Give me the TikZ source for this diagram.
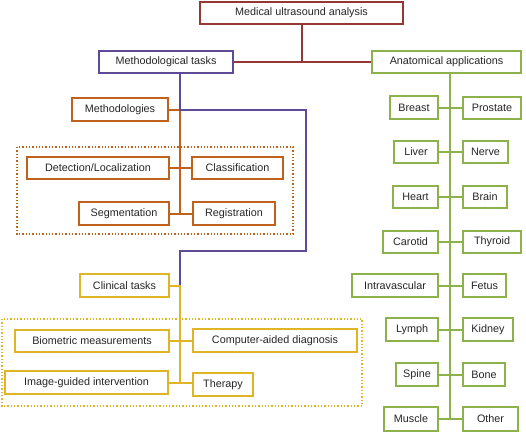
\documentclass[tikz,border=0pt]{standalone}
\usepackage{fontspec}
\setmainfont{Liberation Sans}
\definecolor{cred}{HTML}{953735}
\definecolor{cpur}{HTML}{5F4A98}
\definecolor{corg}{HTML}{C0621C}
\definecolor{cyel}{HTML}{DFB425}
\definecolor{cgrn}{HTML}{8DB14B}
\tikzset{
  ubox/.style={draw, line width=1.4pt, inner sep=0pt, fill=white, font=\fontsize{10.8}{13}\selectfont, text=black!85},
  conn/.style={line width=2pt},
  grp/.style={line width=1.3pt, dotted},
}
\newcommand\ubox[7]{\node[ubox, draw=#6, minimum width={#4pt-#2pt}, minimum height={#5pt-#3pt}] (#1) at ({(#2+#4)/2},{(#3+#5)/2}) {#7};}
\begin{document}
\begin{tikzpicture}[x=1pt,y=-1pt]
\useasboundingbox (0,0) rectangle (526,432);
\coordinate (tm) at (180,0);
\coordinate (tp) at (306,0);
\coordinate (tg) at (450,0);
\coordinate (pb) at (0,251);
% group boxes
\draw[grp, corg] (17,147) rectangle (293,234);
\draw[grp, cyel] (2,319) rectangle (362,406);
% nodes
\ubox{top}{200}{2}{403}{24}{cred}{Medical ultrasound analysis}
\ubox{mt}{99}{51}{233}{73}{cpur}{Methodological tasks}
\ubox{aa}{372}{51}{521}{73}{cgrn}{Anatomical applications}
\ubox{meth}{72}{98}{168}{121}{corg}{Methodologies}
\ubox{det}{27}{157}{169}{179}{corg}{Detection/Localization}
\ubox{cls}{192}{157}{283}{179}{corg}{Classification}
\ubox{seg}{79}{202}{169}{225}{corg}{Segmentation}
\ubox{reg}{193}{202}{275}{225}{corg}{Registration}
\ubox{ct}{80}{274}{169}{297}{cyel}{Clinical tasks}
\ubox{bio}{15}{330}{169}{352}{cyel}{Biometric measurements}
\ubox{cad}{193}{329}{357}{352}{cyel}{Computer-aided diagnosis}
\ubox{igi}{5}{371}{168}{394}{cyel}{Image-guided intervention}
\ubox{ther}{193}{373}{253}{396}{cyel}{Therapy}
% anatomical
\ubox{breast}{390}{96}{438}{119}{cgrn}{Breast}
\ubox{prostate}{463}{97}{521}{119}{cgrn}{Prostate}
\ubox{liver}{394}{141}{438}{163}{cgrn}{Liver}
\ubox{nerve}{463}{141}{508}{163}{cgrn}{Nerve}
\ubox{heart}{393}{186}{438}{208}{cgrn}{Heart}
\ubox{brain}{463}{186}{507}{208}{cgrn}{Brain}
\ubox{carotid}{383}{231}{438}{253}{cgrn}{Carotid}
\ubox{thyroid}{463}{231}{521}{253}{cgrn}{Thyroid}
\ubox{intra}{352}{274}{438}{297}{cgrn}{Intravascular}
\ubox{fetus}{463}{274}{506}{297}{cgrn}{Fetus}
\ubox{lymph}{386}{318}{438}{341}{cgrn}{Lymph}
\ubox{kidney}{463}{318}{513}{341}{cgrn}{Kidney}
\ubox{spine}{396}{363}{438}{386}{cgrn}{Spine}
\ubox{bone}{463}{363}{505}{386}{cgrn}{Bone}
\ubox{muscle}{384}{407}{438}{431}{cgrn}{Muscle}
\ubox{other}{463}{407}{518}{431}{cgrn}{Other}
% connectors
\draw[conn, cred] (top.south) -- (top.south |- mt.east);
\draw[conn, cred] (mt.east) -- (aa.west);
\draw[conn, corg] (meth.east) -- (meth.east -| tm) -- (seg.east -| tm);
\draw[conn, corg] (det.east) -- (cls.west);
\draw[conn, corg] (seg.east) -- (reg.west);
\draw[conn, cpur] (mt.south -| tm) -- (meth.east -| tm) -- (meth.east -| tp) -- (pb -| tp) -- (pb -| tm) -- (ct.east -| tm);
\draw[conn, cyel] (ct.east) -- (ct.east -| tm) -- (igi.east -| tm);
\draw[conn, cyel] (bio.east) -- (bio.east -| cad.west);
\draw[conn, cyel] (igi.east) -- (igi.east -| ther.west);
\draw[conn, cgrn] (aa.south -| tg) -- (muscle.east -| tg);
\foreach \a/\b in {breast/prostate,liver/nerve,heart/brain,carotid/thyroid,intra/fetus,lymph/kidney,spine/bone,muscle/other}
  \draw[conn, cgrn] (\a.east) -- (\a.east -| \b.west);
\end{tikzpicture}
\end{document}
